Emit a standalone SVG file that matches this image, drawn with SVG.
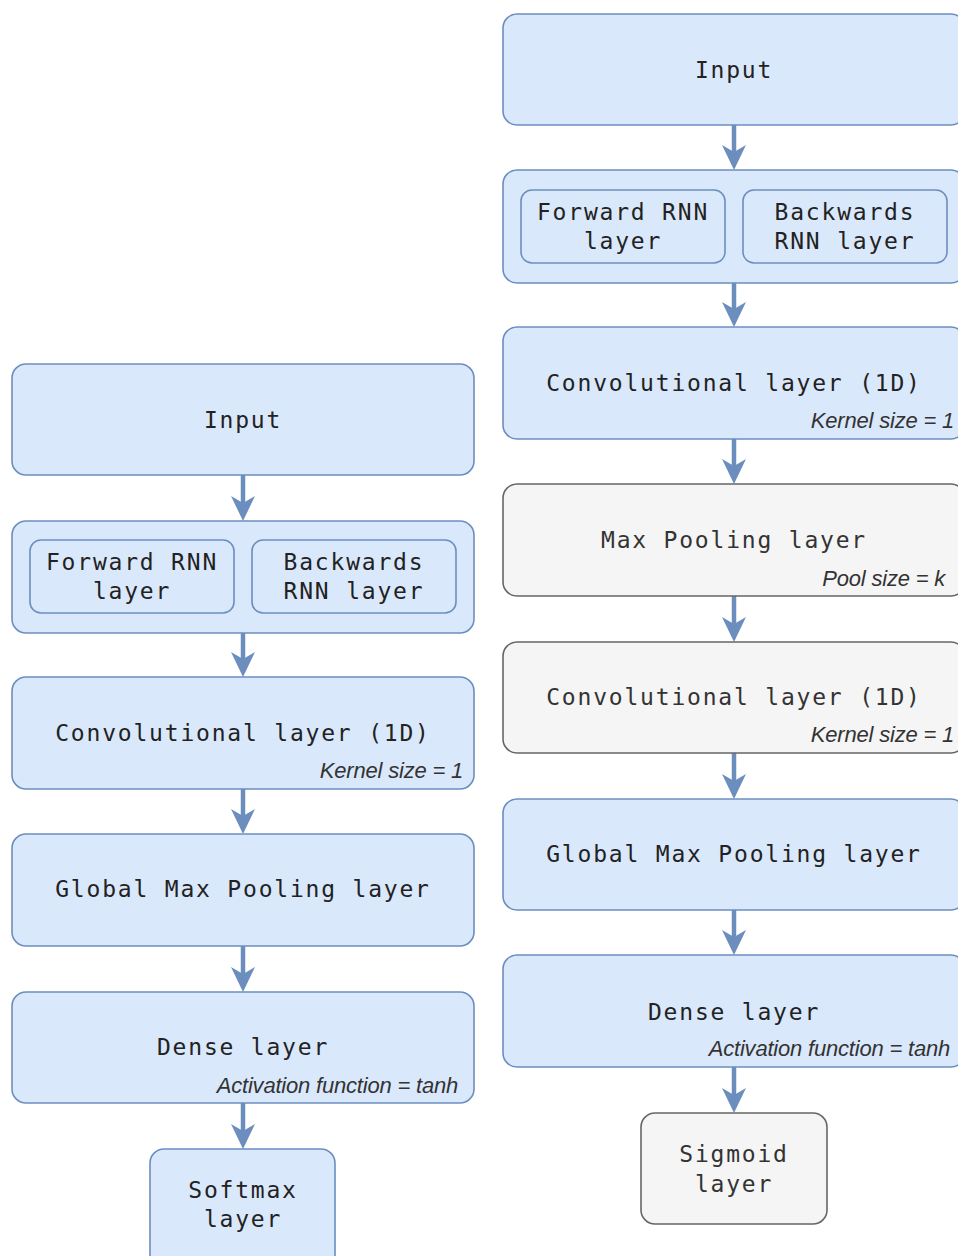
<svg xmlns="http://www.w3.org/2000/svg" width="958" height="1256" viewBox="0 0 958 1256">
<style>
.b{fill:#dae8fc;stroke:#6c8ebf;stroke-width:1.6}
.g{fill:#f5f5f5;stroke:#666666;stroke-width:1.6}
.t{font-family:"DejaVu Sans Mono","Liberation Mono",monospace;font-size:23px;letter-spacing:1.8px;fill:#222;text-anchor:middle}
.tg{fill:#333}
.i{font-family:"Liberation Sans",Arial,sans-serif;font-style:italic;font-size:22px;letter-spacing:-0.2px;fill:#333;text-anchor:end}
.c{stroke:#6c8ebf;stroke-width:4.5;fill:none}
.h{fill:#6c8ebf}
</style>
<defs>
<path id="ah" d="M0,0 L-12,-25 L0,-18 L12,-25 Z"/>
</defs>
<rect width="958" height="1256" fill="#ffffff"/>
<g id="connectors">
<line class="c" x1="243" y1="475" x2="243" y2="505"/><use href="#ah" class="h" x="243" y="521"/>
<line class="c" x1="243" y1="633" x2="243" y2="661"/><use href="#ah" class="h" x="243" y="677"/>
<line class="c" x1="243" y1="789" x2="243" y2="818"/><use href="#ah" class="h" x="243" y="834"/>
<line class="c" x1="243" y1="946" x2="243" y2="976"/><use href="#ah" class="h" x="243" y="992"/>
<line class="c" x1="243" y1="1103" x2="243" y2="1133"/><use href="#ah" class="h" x="243" y="1149"/>
<line class="c" x1="734" y1="125" x2="734" y2="154"/><use href="#ah" class="h" x="734" y="170"/>
<line class="c" x1="734" y1="283" x2="734" y2="311"/><use href="#ah" class="h" x="734" y="327"/>
<line class="c" x1="734" y1="439" x2="734" y2="468"/><use href="#ah" class="h" x="734" y="484"/>
<line class="c" x1="734" y1="596" x2="734" y2="626"/><use href="#ah" class="h" x="734" y="642"/>
<line class="c" x1="734" y1="753" x2="734" y2="783"/><use href="#ah" class="h" x="734" y="799"/>
<line class="c" x1="734" y1="910" x2="734" y2="939"/><use href="#ah" class="h" x="734" y="955"/>
<line class="c" x1="734" y1="1067" x2="734" y2="1097"/><use href="#ah" class="h" x="734" y="1113"/>
</g>
<g id="L-input"><rect class="b" x="12" y="364" width="462" height="111" rx="14"/><text class="t" x="243" y="428">Input</text></g>
<g id="L-rnn"><rect class="b" x="12" y="521" width="462" height="112" rx="14"/>
<rect class="b" x="30" y="540" width="204" height="73" rx="11"/>
<rect class="b" x="252" y="540" width="204" height="73" rx="11"/>
<text class="t" x="132" y="570">Forward RNN</text><text class="t" x="132" y="599">layer</text>
<text class="t" x="354" y="570">Backwards</text><text class="t" x="354" y="599">RNN layer</text></g>
<g id="L-conv"><rect class="b" x="12" y="677" width="462" height="112" rx="14"/><text class="t" x="243" y="741">Convolutional layer (1D)</text><text class="i" x="463" y="778">Kernel size = 1</text></g>
<g id="L-gmp"><rect class="b" x="12" y="834" width="462" height="112" rx="14"/><text class="t" x="243" y="897">Global Max Pooling layer</text></g>
<g id="L-dense"><rect class="b" x="12" y="992" width="462" height="111" rx="14"/><text class="t" x="243" y="1055">Dense layer</text><text class="i" x="458" y="1093">Activation function = tanh</text></g>
<g id="L-softmax"><rect class="b" x="150" y="1149" width="185" height="120" rx="14"/><text class="t" x="243" y="1198">Softmax</text><text class="t" x="243" y="1227">layer</text></g>
<g id="R-input"><rect class="b" x="503" y="14" width="462" height="111" rx="14"/><text class="t" x="734" y="78">Input</text></g>
<g id="R-rnn"><rect class="b" x="503" y="170" width="462" height="113" rx="14"/>
<rect class="b" x="521" y="190" width="204" height="73" rx="11"/>
<rect class="b" x="743" y="190" width="204" height="73" rx="11"/>
<text class="t" x="623" y="220">Forward RNN</text><text class="t" x="623" y="249">layer</text>
<text class="t" x="845" y="220">Backwards</text><text class="t" x="845" y="249">RNN layer</text></g>
<g id="R-conv1"><rect class="b" x="503" y="327" width="462" height="112" rx="14"/><text class="t" x="734" y="391">Convolutional layer (1D)</text><text class="i" x="954" y="428">Kernel size = 1</text></g>
<g id="R-maxpool"><rect class="g" x="503" y="484" width="462" height="112" rx="14"/><text class="t tg" x="734" y="548">Max Pooling layer</text><text class="i" x="945" y="586">Pool size = k</text></g>
<g id="R-conv2"><rect class="g" x="503" y="642" width="462" height="111" rx="14"/><text class="t tg" x="734" y="705">Convolutional layer (1D)</text><text class="i" x="954" y="742">Kernel size = 1</text></g>
<g id="R-gmp"><rect class="b" x="503" y="799" width="462" height="111" rx="14"/><text class="t" x="734" y="862">Global Max Pooling layer</text></g>
<g id="R-dense"><rect class="b" x="503" y="955" width="462" height="112" rx="14"/><text class="t" x="734" y="1020">Dense layer</text><text class="i" x="950" y="1056">Activation function = tanh</text></g>
<g id="R-sigmoid"><rect class="g" x="641" y="1113" width="186" height="111" rx="14"/><text class="t tg" x="734" y="1162">Sigmoid</text><text class="t tg" x="734" y="1192">layer</text></g>
</svg>
